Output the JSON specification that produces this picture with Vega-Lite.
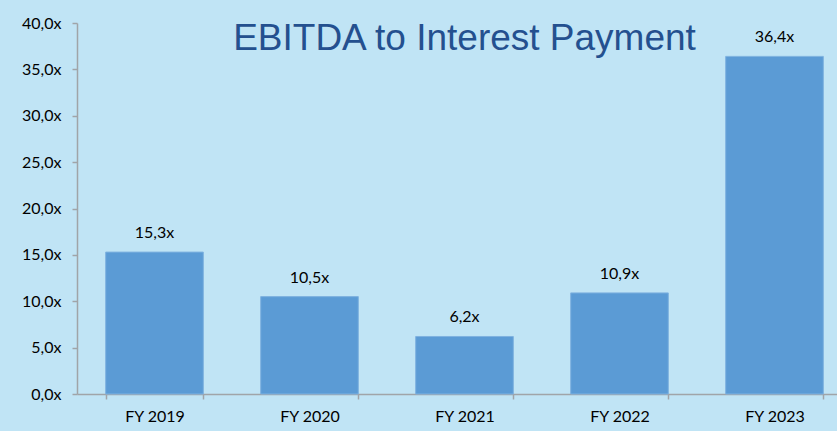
{
  "$schema": "https://vega.github.io/schema/vega-lite/v6.json",
  "width": 775,
  "height": 371,
  "autosize": {"type": "none"},
  "padding": {"left": 77, "top": 23, "right": 0, "bottom": 37},
  "background": "#c0e4f5",
  "title": {
    "text": "EBITDA to Interest Payment",
    "font": "Liberation Sans",
    "fontSize": 37,
    "fontWeight": "normal",
    "color": "#24508f",
    "anchor": "middle",
    "frame": "group",
    "baseline": "alphabetic",
    "offset": 0,
    "dy": 72
  },
  "data": {
    "values": [
      {"year": "FY 2019", "value": 15.3},
      {"year": "FY 2020", "value": 10.5},
      {"year": "FY 2021", "value": 6.2},
      {"year": "FY 2022", "value": 10.9},
      {"year": "FY 2023", "value": 36.4}
    ]
  },
  "transform": [
    {"calculate": "replace(format(datum.value, '.1f'), '.', ',') + 'x'", "as": "label"}
  ],
  "encoding": {
    "x": {
      "field": "year",
      "type": "nominal",
      "sort": null,
      "scale": {"paddingInner": 0.37, "paddingOuter": 0.185},
      "axis": {
        "title": null,
        "labelAngle": 0,
        "tickBand": "extent",
        "labelPadding": 9
      }
    }
  },
  "layer": [
    {
      "mark": {"type": "bar", "color": "#5b9bd5", "stroke": "#7fb2e0", "strokeWidth": 1},
      "encoding": {
        "y": {
          "field": "value",
          "type": "quantitative",
          "scale": {"domain": [0, 40], "nice": false},
          "axis": {
            "title": null,
            "values": [0, 5, 10, 15, 20, 25, 30, 35, 40],
            "labelExpr": "replace(format(datum.value, '.1f'), '.', ',') + 'x'",
            "grid": false,
            "labelPadding": 11
          }
        }
      }
    },
    {
      "mark": {"type": "text", "baseline": "bottom", "dy": -11, "font": "Lato", "fontSize": 16, "color": "#000000"},
      "encoding": {
        "y": {"field": "value", "type": "quantitative"},
        "text": {"field": "label"}
      }
    }
  ],
  "config": {
    "view": {"stroke": null},
    "axis": {
      "domainColor": "#a0a4a8",
      "domainWidth": 1.5,
      "tickColor": "#a0a4a8",
      "tickWidth": 1.5,
      "tickSize": 5,
      "labelFont": "Lato",
      "labelFontSize": 16,
      "labelColor": "#000000"
    }
  }
}
